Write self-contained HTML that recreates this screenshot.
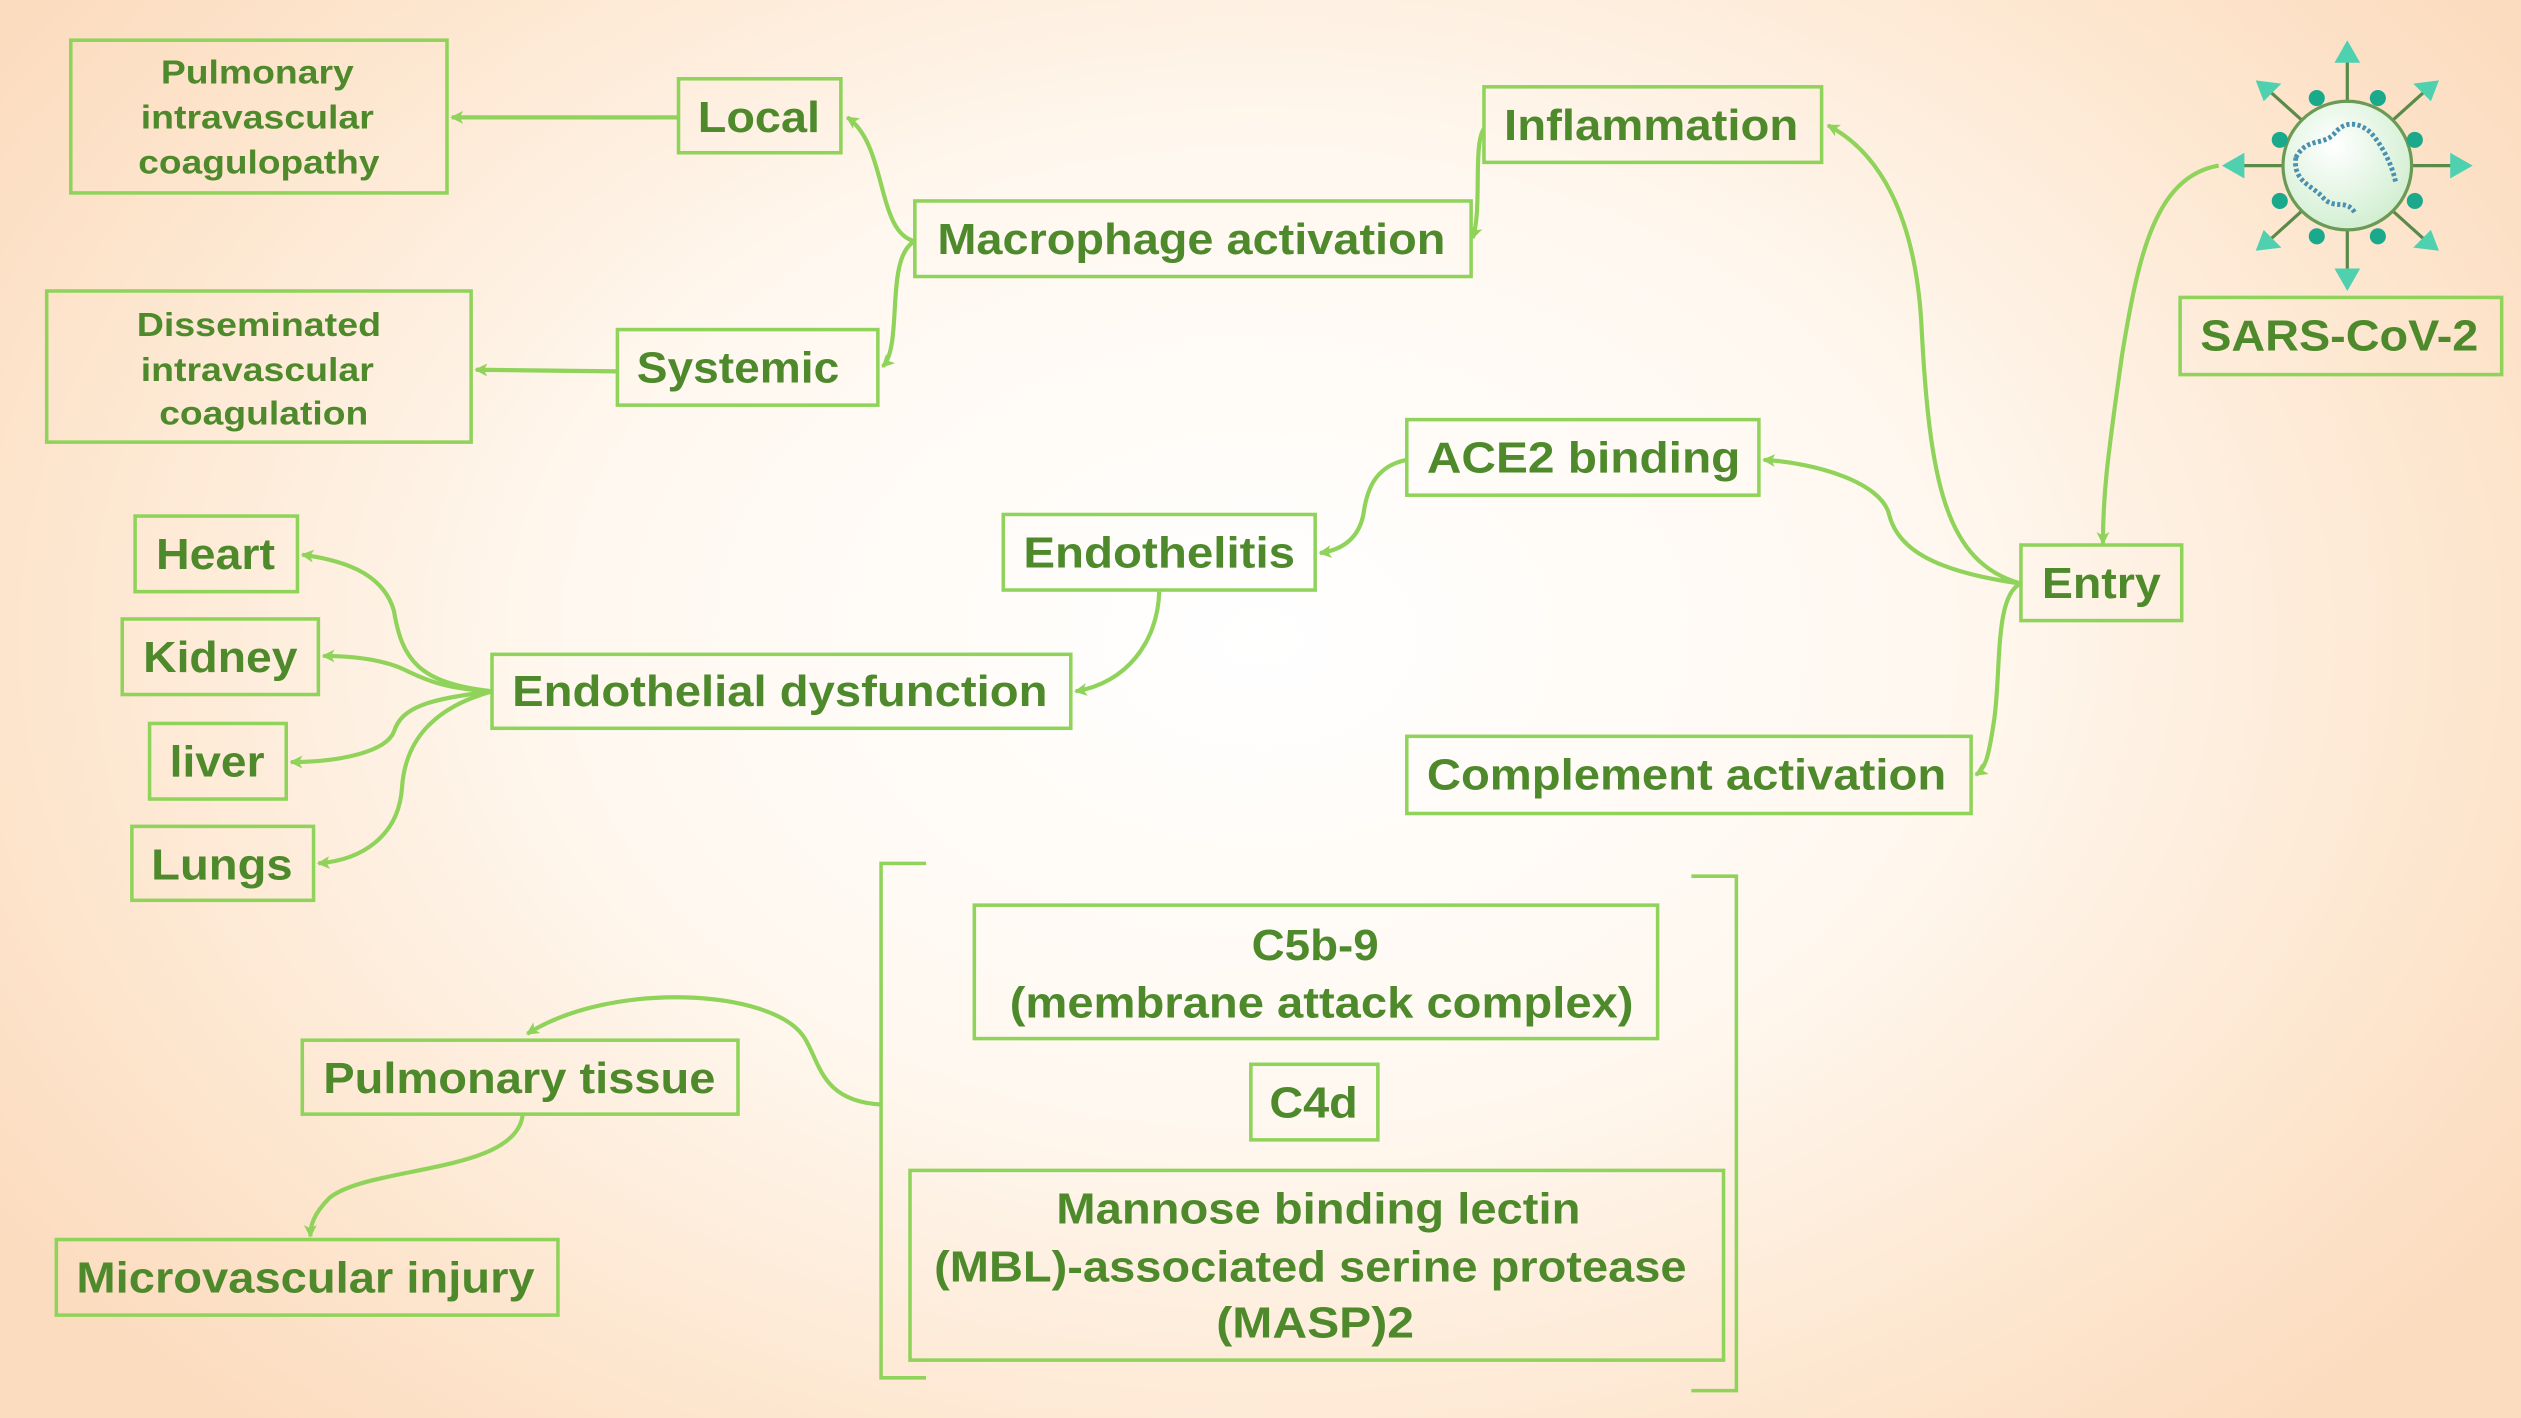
<!DOCTYPE html>
<html><head><meta charset="utf-8"><style>
html,body{margin:0;padding:0;width:2521px;height:1418px;overflow:hidden}
body{background:radial-gradient(ellipse 60% 75% at 50% 45%,#ffffff 0%,#fff8f0 45%,#fde6cf 80%,#fcdcbf 100%)}
svg{display:block}
text{font-family:"Liberation Sans",Arial,sans-serif;font-weight:bold;fill:#4e8a2c;text-anchor:middle}
.b{fill:none;stroke:#8fd35a;stroke-width:2.2}
.c{fill:none;stroke:#8fd35a;stroke-width:2.6}
.m{font-size:27px}.s{font-size:21px}
</style></head><body>
<svg width="2521" height="1418" viewBox="0 0 1568 882" xmlns="http://www.w3.org/2000/svg">
<defs>
<marker id="a" markerWidth="10" markerHeight="10" refX="7" refY="5" orient="auto" markerUnits="userSpaceOnUse">
<path d="M0,1 L8,5 L0,9 L2,5 Z" fill="#8fd35a"/></marker>
<radialGradient id="vg" cx="40%" cy="35%" r="70%"><stop offset="0" stop-color="#ffffff"/><stop offset="1" stop-color="#cfeecf"/></radialGradient>
</defs>

<!-- boxes -->
<rect class="b" x="44" y="25" width="234" height="95"/>
<rect class="b" x="422" y="49" width="101" height="46"/>
<rect class="b" x="29" y="181" width="264" height="94"/>
<rect class="b" x="384" y="205" width="162" height="47"/>
<rect class="b" x="569" y="125" width="346" height="47"/>
<rect class="b" x="923" y="54" width="210" height="47"/>
<rect class="b" x="875" y="261" width="219" height="47"/>
<rect class="b" x="624" y="320" width="194" height="47"/>
<rect class="b" x="1257" y="339" width="100" height="47"/>
<rect class="b" x="1356" y="185" width="200" height="48"/>
<rect class="b" x="875" y="458" width="351" height="48"/>
<rect class="b" x="84" y="321" width="101" height="47"/>
<rect class="b" x="76" y="385" width="122" height="47"/>
<rect class="b" x="93" y="450" width="85" height="47"/>
<rect class="b" x="82" y="514" width="113" height="46"/>
<rect class="b" x="306" y="407" width="360" height="46"/>
<rect class="b" x="188" y="647" width="271" height="46"/>
<rect class="b" x="35" y="771" width="312" height="47"/>
<rect class="b" x="606" y="563" width="425" height="83"/>
<rect class="b" x="778" y="662" width="79" height="47"/>
<rect class="b" x="566" y="728" width="506" height="118"/>
<path class="b" d="M576,537 H548 V857 H576"/>
<path class="b" d="M1052,545 H1080 V865 H1052"/>

<!-- labels -->
<text class="s" x="160" y="52" textLength="120" lengthAdjust="spacingAndGlyphs">Pulmonary</text>
<text class="s" x="160" y="80" textLength="145" lengthAdjust="spacingAndGlyphs">intravascular</text>
<text class="s" x="161" y="108" textLength="150" lengthAdjust="spacingAndGlyphs">coagulopathy</text>
<text class="s" x="161" y="209" textLength="152" lengthAdjust="spacingAndGlyphs">Disseminated</text>
<text class="s" x="160" y="237" textLength="145" lengthAdjust="spacingAndGlyphs">intravascular</text>
<text class="s" x="164" y="264" textLength="130" lengthAdjust="spacingAndGlyphs">coagulation</text>
<text class="m" x="472" y="82" textLength="76" lengthAdjust="spacingAndGlyphs">Local</text>
<text class="m" x="459" y="238" textLength="126" lengthAdjust="spacingAndGlyphs">Systemic</text>
<text class="m" x="741" y="158" textLength="316" lengthAdjust="spacingAndGlyphs">Macrophage activation</text>
<text class="m" x="1027" y="87" textLength="183" lengthAdjust="spacingAndGlyphs">Inflammation</text>
<text class="m" x="985" y="294" textLength="195" lengthAdjust="spacingAndGlyphs">ACE2 binding</text>
<text class="m" x="721" y="353" textLength="169" lengthAdjust="spacingAndGlyphs">Endothelitis</text>
<text class="m" x="1307" y="372" textLength="74" lengthAdjust="spacingAndGlyphs">Entry</text>
<text class="m" x="1455" y="218" textLength="173" lengthAdjust="spacingAndGlyphs">SARS-CoV-2</text>
<text class="m" x="1049" y="491" textLength="323" lengthAdjust="spacingAndGlyphs">Complement activation</text>
<text class="m" x="134" y="354" textLength="74" lengthAdjust="spacingAndGlyphs">Heart</text>
<text class="m" x="137" y="418" textLength="96" lengthAdjust="spacingAndGlyphs">Kidney</text>
<text class="m" x="135" y="483" textLength="59" lengthAdjust="spacingAndGlyphs">liver</text>
<text class="m" x="138" y="547" textLength="88" lengthAdjust="spacingAndGlyphs">Lungs</text>
<text class="m" x="485" y="439" textLength="333" lengthAdjust="spacingAndGlyphs">Endothelial dysfunction</text>
<text class="m" x="323" y="680" textLength="244" lengthAdjust="spacingAndGlyphs">Pulmonary tissue</text>
<text class="m" x="190" y="804" textLength="285" lengthAdjust="spacingAndGlyphs">Microvascular injury</text>
<text class="m" x="818" y="597" textLength="79" lengthAdjust="spacingAndGlyphs">C5b-9</text>
<text class="m" x="822" y="633" textLength="388" lengthAdjust="spacingAndGlyphs">(membrane attack complex)</text>
<text class="m" x="817" y="695" textLength="55" lengthAdjust="spacingAndGlyphs">C4d</text>
<text class="m" x="820" y="761" textLength="326" lengthAdjust="spacingAndGlyphs">Mannose binding lectin</text>
<text class="m" x="815" y="797" textLength="468" lengthAdjust="spacingAndGlyphs">(MBL)-associated serine protease</text>
<text class="m" x="818" y="832" textLength="123" lengthAdjust="spacingAndGlyphs">(MASP)2</text>

<!-- connectors -->
<g class="c" marker-end="url(#a)">
<path d="M422,73 L281,73"/>
<path d="M384,231 L296,230"/>
<path d="M569,150 C545,145 552,90 527,73"/>
<path d="M569,150 C550,160 562,215 549,228"/>
<path d="M923,80 C916,90 922,130 916,148"/>
<path d="M1257,363 C1210,350 1200,300 1195,200 C1190,120 1160,90 1137,78"/>
<path d="M1257,363 C1200,355 1180,340 1175,320 C1170,300 1130,288 1097,286"/>
<path d="M1257,363 C1240,370 1245,420 1240,450 C1237,470 1235,478 1229,482"/>
<path d="M1380,103 C1340,110 1330,160 1320,220 C1310,290 1308,310 1308,338"/>
<path d="M875,286 C855,290 850,305 848,320 C845,335 835,342 821,344"/>
<path d="M721,368 C720,400 700,425 669,430"/>
<path d="M306,430 C260,425 250,410 245,380 C238,355 210,348 188,345"/>
<path d="M306,430 C270,428 260,420 248,415 C235,410 220,408 201,408"/>
<path d="M306,430 C265,435 250,440 245,455 C240,468 210,474 181,474"/>
<path d="M306,430 C270,440 252,460 250,490 C248,520 225,535 198,537"/>
<path d="M548,687 C510,685 510,660 500,645 C480,615 380,610 328,643"/>
<path d="M325,694 C320,730 230,725 205,745 C195,755 193,762 193,769"/>
</g>

<!-- virus -->
<g transform="translate(1460,103)">
<g stroke="#5a8a4a" stroke-width="2">
<line x1="0" y1="-40" x2="0" y2="-66"/><line x1="0" y1="40" x2="0" y2="66"/>
<line x1="-40" y1="0" x2="-66" y2="0"/><line x1="40" y1="0" x2="66" y2="0"/>
<line x1="-28" y1="-28" x2="-48" y2="-46"/><line x1="28" y1="-28" x2="48" y2="-46"/>
<line x1="-28" y1="28" x2="-48" y2="46"/><line x1="28" y1="28" x2="48" y2="46"/>
</g>
<g fill="#4fd1b0">
<path d="M0,-78 L-8,-64 L8,-64Z"/><path d="M0,78 L-8,64 L8,64Z"/>
<path d="M-78,0 L-64,-8 L-64,8Z"/><path d="M78,0 L64,-8 L64,8Z"/>
<path d="M-57,-53 L-41,-51 L-52,-40Z"/><path d="M57,-53 L41,-51 L52,-40Z"/>
<path d="M-57,53 L-41,51 L-52,40Z"/><path d="M57,53 L41,51 L52,40Z"/>
</g>
<circle r="40" fill="url(#vg)" stroke="#6a9a55" stroke-width="2"/>
<g fill="#1aa98a">
<circle cx="-19" cy="-42" r="5"/><circle cx="19" cy="-42" r="5"/>
<circle cx="-42" cy="-16" r="5"/><circle cx="42" cy="-16" r="5"/>
<circle cx="-42" cy="22" r="5"/><circle cx="42" cy="22" r="5"/>
<circle cx="-19" cy="44" r="5"/><circle cx="19" cy="44" r="5"/>
</g>
<path d="M-32,-5 C-25,-18 -15,-12 -8,-20 C0,-30 10,-25 15,-20 C22,-12 28,0 30,10 M-32,-5 C-34,10 -22,12 -15,20 C-8,28 0,20 5,30" fill="none" stroke="#4a90b0" stroke-width="3" stroke-dasharray="2 1.5"/>
</g>
</svg>
</body></html>
